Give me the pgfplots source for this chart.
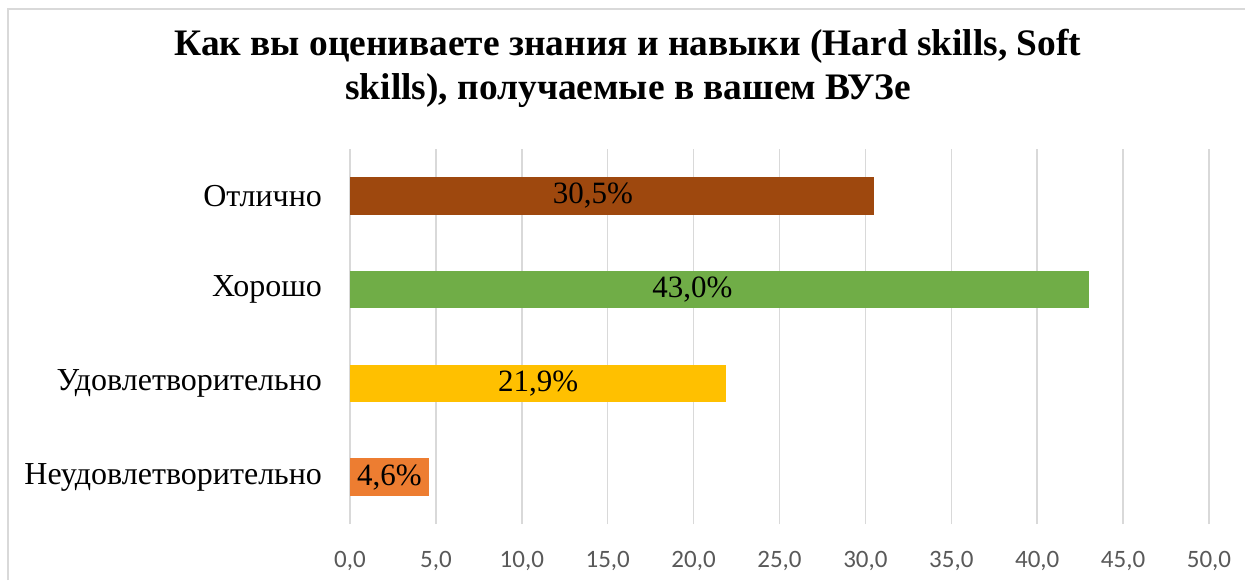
\documentclass[border=0pt]{standalone}
\usepackage{pgfplots}
\pgfplotsset{compat=1.18}
\usepackage{fontspec}
\setmainfont{Liberation Serif}
\newfontfamily\carlito{Carlito}
\definecolor{cBrown}{RGB}{158,72,14}
\definecolor{cGreen}{RGB}{112,173,71}
\definecolor{cGold}{RGB}{255,192,0}
\definecolor{cOrange}{RGB}{237,125,49}
\definecolor{cGrid}{RGB}{217,217,217}
\definecolor{cTick}{RGB}{89,89,89}
\begin{document}
\begin{tikzpicture}
\begin{axis}[
  scale only axis,
  width=429.5pt, height=187.5pt,
  xmin=0, xmax=50,
  ymin=-0.5, ymax=3.5,
  xtick={0,5,...,50},
  ytick={0,1,2,3},
  yticklabels={Неудовлетворительно,Удовлетворительно,Хорошо,Отлично},
  axis line style={draw=none},
  major tick length=0pt,
  xmajorgrids,
  grid style={cGrid, line width=0.75pt},
  xbar, bar width=0.4, bar shift=0pt,
  /pgf/number format/.cd, fixed, fixed zerofill, precision=1, use comma, assume math mode=true,
  /pgfplots/.cd,
  xticklabel style={font=\carlito\fontsize{12.5}{14}\selectfont, text=cTick, yshift=-10pt},
  yticklabel style={font=\fontsize{16}{19}\selectfont, xshift=-10.5pt},
  point meta=x,
  visualization depends on={x \as \rawx},
  nodes near coords={\pgfmathprintnumber{\pgfplotspointmeta}\%},
  every node near coord/.append style={anchor=center, font=\fontsize{15.5}{18}\selectfont, text=black, shift={(axis direction cs:-\rawx/2,0)}},
]
\addplot[fill=cOrange, draw=none] coordinates {(4.6,0)};
\addplot[fill=cGold, draw=none] coordinates {(21.9,1)};
\addplot[fill=cGreen, draw=none, every node near coord/.append style={xshift=-13.5pt}] coordinates {(43.0,2)};
\addplot[fill=cBrown, draw=none, every node near coord/.append style={xshift=-9.5pt}] coordinates {(30.5,3)};
\end{axis}
\node[anchor=base, font=\fontsize{18.7}{21}\selectfont\bfseries, inner sep=0pt] at (139pt,234pt) {Как вы оцениваете знания и навыки (Hard skills, Soft};
\node[anchor=base, font=\fontsize{18.7}{21}\selectfont\bfseries, inner sep=0pt] at (139pt,212.5pt) {skills), получаемые в вашем ВУЗе};
\draw[cGrid, line width=1pt] (-171pt,-28pt) -- (-171pt,257.5pt) -- (447.5pt,257.5pt);
\pgfresetboundingbox
\useasboundingbox (-175pt,-28pt) rectangle (447.5pt,262pt);
\end{tikzpicture}
\end{document}
